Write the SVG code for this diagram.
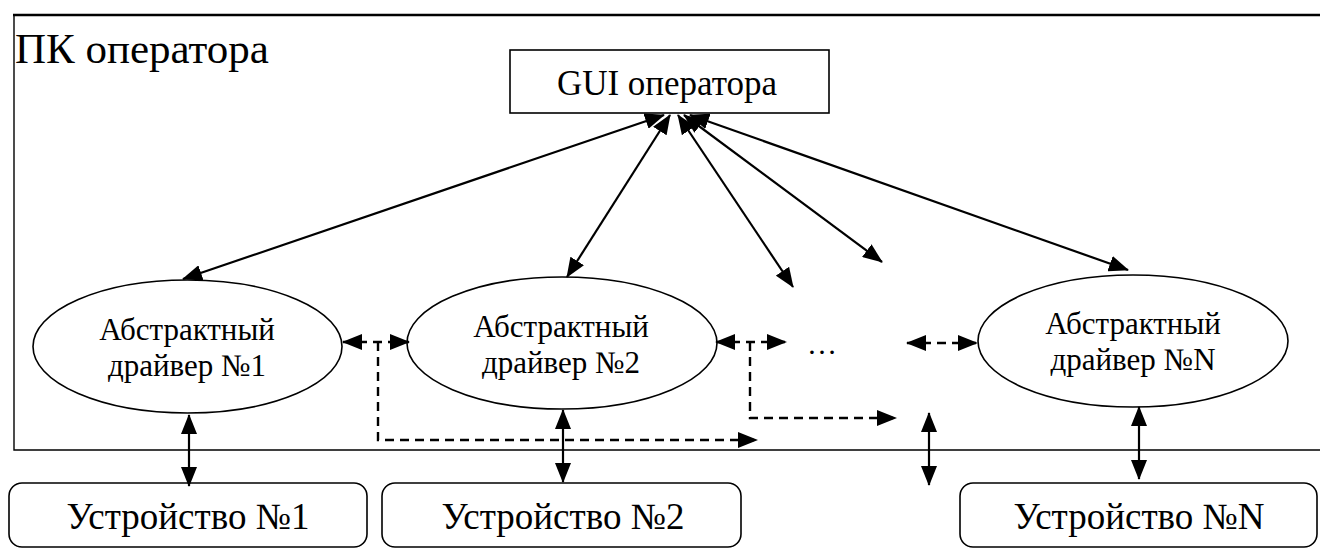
<svg xmlns="http://www.w3.org/2000/svg" width="1320" height="550" viewBox="0 0 1320 550">
  <defs>
    <style>
      text { font-family: "Liberation Serif", "Times New Roman", serif; fill: #000; }
      .frame { fill: none; stroke: #000; stroke-width: 1.4; }
      .node { fill: #fff; stroke: #000; stroke-width: 1.6; }
      .link { fill: none; stroke: #000; stroke-width: 2.2; }
      .dash { fill: none; stroke: #000; stroke-width: 2.4; stroke-dasharray: 9 6; }
      .lbl { font-size: 31px; text-anchor: middle; }
      .dev { font-size: 37px; text-anchor: middle; }
    </style>
    <!-- filled arrowhead, sized in user units -->
    <marker id="arrow" viewBox="0 0 20 16" refX="19" refY="8" markerWidth="20" markerHeight="16" markerUnits="userSpaceOnUse" orient="auto-start-reverse">
      <path d="M0,0 L20,8 L0,16 z" fill="#000"/>
    </marker>
  </defs>

  <!-- operator PC boundary (open on the right) -->
  <g id="pc">
    <path class="frame" d="M1325,450 L14,450 L14,15"/>
    <line x1="13" y1="15" x2="1325" y2="15" stroke="#000" stroke-width="2.4"/>
    <text x="15" y="63" font-size="43">ПК оператора</text>
  </g>

  <g id="gui">
    <rect class="node" x="510" y="50" width="319" height="63"/>
    <text x="667" y="95" font-size="35" text-anchor="middle">GUI оператора</text>
  </g>

  <g id="driver1">
    <ellipse class="node" cx="187.5" cy="346.5" rx="154.5" ry="66.5"/>
    <text class="lbl" x="187" y="340">Абстрактный</text>
    <text class="lbl" x="187" y="376">драйвер №1</text>
  </g>

  <g id="driver2">
    <ellipse class="node" cx="562" cy="343" rx="155" ry="66"/>
    <text class="lbl" x="561" y="337">Абстрактный</text>
    <text class="lbl" x="561" y="373">драйвер №2</text>
  </g>

  <g id="driverN">
    <ellipse class="node" cx="1133" cy="341" rx="155" ry="66"/>
    <text class="lbl" x="1133" y="334">Абстрактный</text>
    <text class="lbl" x="1133" y="370">драйвер №N</text>
  </g>

  <g id="ellipsis">
    <text x="822" y="354" font-size="30" text-anchor="middle">…</text>
  </g>

  <g id="device1">
    <rect class="node" x="9" y="483" width="358" height="64" rx="13"/>
    <text class="dev" x="188" y="529">Устройство №1</text>
  </g>

  <g id="device2">
    <rect class="node" x="382" y="483" width="359" height="64" rx="13"/>
    <text class="dev" x="563" y="529">Устройство №2</text>
  </g>

  <g id="deviceN">
    <rect class="node" x="960" y="483" width="357" height="64" rx="13"/>
    <text class="dev" x="1139" y="529">Устройство №N</text>
  </g>

  <g id="connectors" marker-start="url(#arrow)" marker-end="url(#arrow)">
    <!-- GUI to drivers -->
    <line class="link" x1="664" y1="115" x2="183" y2="279"/>
    <line class="link" x1="670" y1="115" x2="567" y2="277"/>
    <line class="link" x1="678" y1="115" x2="793" y2="287"/>
    <line class="link" x1="684" y1="115" x2="882" y2="262"/>
    <line class="link" x1="690" y1="115" x2="1128" y2="270"/>

    <!-- drivers to devices -->
    <line class="link" x1="189" y1="415" x2="189" y2="486"/>
    <line class="link" x1="563" y1="410" x2="563" y2="482"/>
    <line class="link" x1="929" y1="413" x2="929" y2="485"/>
    <line class="link" x1="1139" y1="407" x2="1139" y2="479"/>

    <!-- driver-to-driver links -->
    <line class="dash" x1="343" y1="342" x2="409" y2="342"/>
    <path class="dash" d="M378,342 L378,440 L757,440" marker-start="none"/>
    <line class="dash" x1="716" y1="342" x2="786" y2="342"/>
    <path class="dash" d="M750,342 L750,418 L896,418" marker-start="none"/>
    <line class="dash" x1="907" y1="343" x2="977" y2="343"/>
  </g>
</svg>
